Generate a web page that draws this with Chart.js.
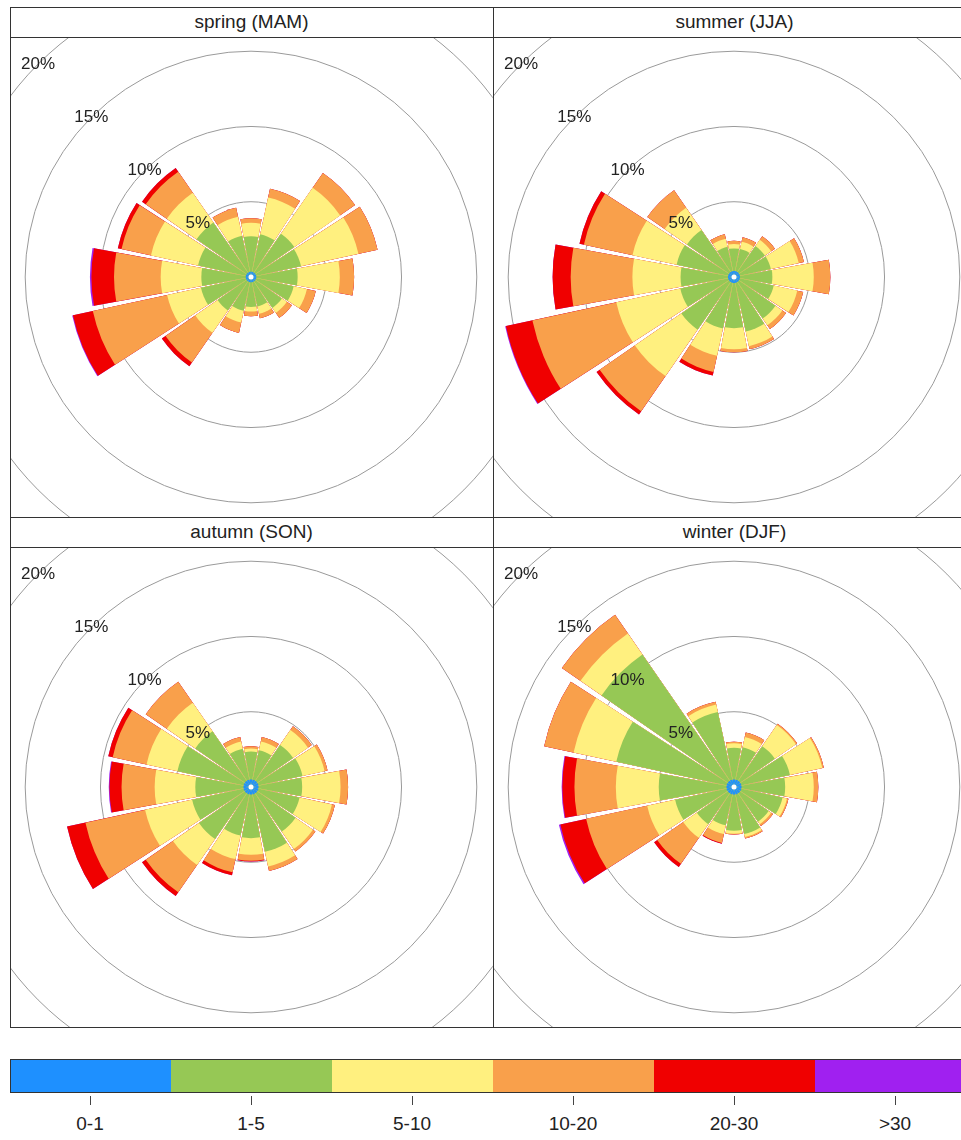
<!DOCTYPE html>
<html>
<head>
<meta charset="utf-8">
<script src="https://cdn.jsdelivr.net/npm/chart.js@4.4.1/dist/chart.umd.min.js"></script>
<style>
body { margin: 0; background: #fff; font-family: "Liberation Sans", Arial, sans-serif; }
#page { position: relative; width: 961px; height: 1140px; overflow: hidden; }
.panel { position: absolute; width: 483px; height: 480px; overflow: hidden; }
.panel canvas { position: absolute; left: -109px; top: -110px; }
.strip { position: absolute; width: 483px; height: 30px; line-height: 30px; text-align: center; font-size: 19px; color: #222; }
.hline { position: absolute; height: 1px; background: #333; left: 10px; width: 966px; }
.vline { position: absolute; width: 1px; background: #333; top: 7px; height: 1021px; }
.cell { position: absolute; top: 1059px; height: 34px; box-sizing: border-box; border-top: 1px solid #333; border-bottom: 1px solid #333; }
.tick { position: absolute; top: 1096px; height: 9px; width: 1px; background: #444; }
.blabel { position: absolute; top: 1113px; width: 100px; text-align: center; font-size: 19px; color: #222; }
</style>
</head>
<body>
<div id="page"></div>
<script>
// wind sectors, speed classes and colours
var directions = ['N','NNE','NE','ENE','E','ESE','SE','SSE','S','SSW','SW','WSW','W','WNW','NW','NNW'];
var speedBins = ['0-1','1-5','5-10','10-20','20-30','>30'];
var binColours = ['#1e90ff','#96c855','#fff07f','#f9a04b','#f00000','#a020f0'];
var ringTicks = [5, 10, 15, 20];
var seasonTitles = ['spring (MAM)','summer (JJA)','autumn (SON)','winter (DJF)'];

// frequency (%) per speed class, one row per class, N..NNW
var spring = [
    [0.35,0.35,0.35,0.35,0.35,0.35,0.35,0.35,0.35,0.35,0.35,0.35,0.35,0.35,0.35,0.35],
    [2.35,2.55,3.15,3.05,2.75,2.55,2.15,1.65,1.65,1.95,2.35,3.05,2.95,3.25,4.05,2.45],
    [0.9,2.5,3.7,3.9,2.8,0.9,0.4,0.5,0.3,0.8,1.8,2.3,2.7,3.2,2.4,1.3],
    [0.3,0.6,1.2,1.3,0.95,0.6,0.4,0.3,0.3,0.7,2.4,5.05,3.1,2.0,1.7,0.6],
    [0,0,0,0,0,0,0,0,0,0,0.3,1.35,1.5,0.25,0.3,0],
    [0,0,0,0,0,0,0,0,0,0,0,0.05,0.1,0,0,0]
];
var summer = [
    [0.4,0.4,0.4,0.4,0.4,0.4,0.4,0.4,0.4,0.4,0.4,0.4,0.4,0.4,0.4,0.4],
    [1.5,1.5,2.1,2.1,2.15,2.3,2.95,3.3,3.0,3.1,3.85,3.25,3.15,3.5,3.4,1.65],
    [0.3,0.5,0.5,1.9,2.75,1.6,0.55,1.0,1.4,1.85,3.75,4.35,3.2,3.0,1.8,0.55],
    [0.2,0.3,0.3,0.35,1.1,0.4,0.3,0.2,0.2,1.1,2.85,5.7,4.1,3.3,1.4,0.3],
    [0,0,0,0,0,0,0,0,0,0.25,0.25,1.8,1.2,0.3,0,0],
    [0,0,0,0,0,0,0,0,0,0,0,0.05,0,0,0,0]
];
var autumn = [
    [0.5,0.5,0.5,0.5,0.5,0.5,0.5,0.5,0.5,0.5,0.5,0.5,0.5,0.5,0.5,0.5],
    [1.85,2.0,2.9,3.0,2.9,2.8,3.1,3.9,2.9,2.8,3.7,3.5,3.2,4.5,4.0,2.1],
    [0.2,0.6,1.2,1.5,2.55,2.2,1.4,1.0,1.1,1.6,2.1,3.2,2.7,2.1,2.3,0.5],
    [0.15,0.3,0.3,0.2,0.5,0.2,0.2,0.3,0.4,0.9,2.2,4.05,2.2,2.3,1.7,0.3],
    [0,0,0,0,0,0,0,0,0.05,0.2,0.3,1.25,0.8,0.3,0,0],
    [0,0,0,0,0,0,0,0,0,0,0,0,0.05,0,0,0]
];
var winter = [
    [0.5,0.5,0.5,0.5,0.5,0.5,0.5,0.5,0.5,0.5,0.5,0.5,0.5,0.5,0.5,0.5],
    [2.1,2.2,2.8,3.3,2.9,2.8,2.3,2.7,2.4,2.1,2.5,3.5,4.5,7.5,10.2,4.6],
    [0.3,0.7,1.7,2.2,1.9,0.3,0.2,0.2,0.2,0.6,1.1,1.9,2.85,2.9,1.7,0.5],
    [0.1,0.3,0.1,0.1,0.3,0.1,0.15,0.1,0.05,0.6,2.1,4.15,2.75,2.0,1.5,0.2],
    [0,0,0,0,0,0,0,0,0,0.05,0.25,1.75,0.8,0,0,0],
    [0,0,0,0,0,0,0,0,0,0,0,0.1,0.05,0,0,0]
];

var sectorAngle = 360 / directions.length;
var gapAngle = 1.8;

function cumulate(bins)
{
    var run = directions.map(function() { return 0; });
    return bins.map(function(values) {
        run = run.map(function(r, i) { return r + values[i]; });
        return run.slice();
    });
}

// every sector is followed by a thin empty slot, which gives the white gap
function withGaps(values)
{
    var out = [];
    values.forEach(function(v) { out.push(v, 0); });
    return out;
}

var ringLabels = {
    id: 'ringLabels',
    afterDatasetsDraw: function(chart) {
        var scale = chart.scales.r;
        var ctx = chart.ctx;
        ctx.save();
        ctx.fillStyle = '#fff';
        ctx.beginPath();
        ctx.arc(scale.xCenter, scale.yCenter, 2.5, 0, Math.PI * 2);
        ctx.fill();
        ctx.font = '17px "Liberation Sans", Arial, sans-serif';
        ctx.fillStyle = '#222';
        ctx.textAlign = 'center';
        ctx.textBaseline = 'middle';
        var a = -Math.PI * 3 / 4;
        ringTicks.forEach(function(v) {
            var d = scale.getDistanceFromCenterForValue(v);
            ctx.fillText(v + '%', scale.xCenter + Math.cos(a) * d, scale.yCenter + Math.sin(a) * d);
        });
        ctx.restore();
    }
};

function createRose(canvas, bins)
{
    var datasets = cumulate(bins).map(function(values, k) {
        return {
            label: speedBins[k],
            data: withGaps(values),
            backgroundColor: binColours[k],
            borderWidth: 0,
            angle: function(c) { return c.dataIndex % 2 ? gapAngle : sectorAngle - gapAngle; }
        };
    });
    return new Chart(canvas, {
        type: 'polarArea',
        data: {
            labels: directions.reduce(function(l, d) { return l.concat([d, '']); }, []),
            datasets: datasets
        },
        options: {
            responsive: false,
            animation: false,
            devicePixelRatio: 1,
            events: [],
            layout: { padding: 0 },
            plugins: { legend: { display: false }, tooltip: { enabled: false } },
            scales: {
                r: {
                    min: 0,
                    max: 23.25,
                    startAngle: -sectorAngle / 2 + gapAngle / 2,
                    ticks: { display: false, stepSize: 5 },
                    grid: { color: '#9a9a9a', lineWidth: 1, circular: true },
                    angleLines: { display: false },
                    pointLabels: { display: false }
                }
            }
        },
        plugins: [ringLabels]
    });
}

var page = document.getElementById('page');
var colLeft = [10, 493];
var stripTop = [7, 517];
var panelTop = [37, 547];
var seasonData = [spring, summer, autumn, winter];

seasonData.forEach(function(bins, i) {
    var r = Math.floor(i / 2), c = i % 2;
    var strip = document.createElement('div');
    strip.className = 'strip';
    strip.style.left = colLeft[c] + 'px';
    strip.style.top = stripTop[r] + 'px';
    strip.textContent = seasonTitles[i];
    page.appendChild(strip);

    var panel = document.createElement('div');
    panel.className = 'panel';
    panel.style.left = colLeft[c] + 'px';
    panel.style.top = panelTop[r] + 'px';
    var canvas = document.createElement('canvas');
    canvas.width = 700;
    canvas.height = 700;
    panel.appendChild(canvas);
    page.appendChild(panel);
    createRose(canvas, bins);
});

[7, 37, 517, 547, 1027].forEach(function(y) {
    var l = document.createElement('div');
    l.className = 'hline';
    l.style.top = y + 'px';
    page.appendChild(l);
});
[10, 493].forEach(function(x) {
    var l = document.createElement('div');
    l.className = 'vline';
    l.style.left = x + 'px';
    page.appendChild(l);
});

// colour key
speedBins.forEach(function(name, k) {
    var left = 10 + k * 161;
    var cell = document.createElement('div');
    cell.className = 'cell';
    cell.style.left = left + 'px';
    cell.style.width = '161px';
    cell.style.background = binColours[k];
    if (k == 0) cell.style.borderLeft = '1px solid #333';
    page.appendChild(cell);

    var tick = document.createElement('div');
    tick.className = 'tick';
    tick.style.left = (left + 80) + 'px';
    page.appendChild(tick);

    var lab = document.createElement('div');
    lab.className = 'blabel';
    lab.style.left = (left + 30) + 'px';
    lab.textContent = name;
    page.appendChild(lab);
});
</script>
</body>
</html>
